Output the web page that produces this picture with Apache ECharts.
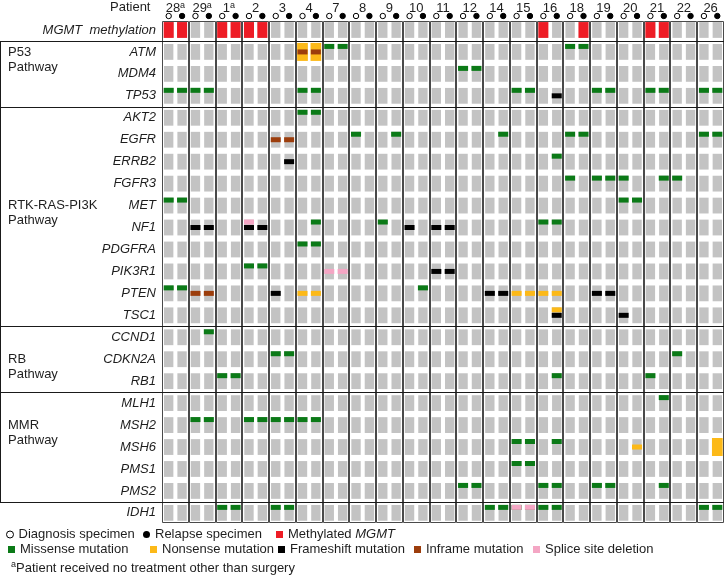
<!DOCTYPE html>
<html>
<head>
<meta charset="utf-8">
<script src="https://cdn.jsdelivr.net/npm/echarts@6/dist/echarts.min.js"></script>
<style>
html, body { margin: 0; padding: 0; background: #fff; }
#chart { width: 724px; height: 575px; }
</style>
</head>
<body>
<div id="chart"></div>
<script>
// patients, two specimens each (D = diagnosis, R = relapse)
const patients = ['28', '29', '1', '2', '3', '4', '7', '8', '9', '10', '11', '12', '14', '15', '16', '18', '19', '20', '21', '22', '26'];
const surgeryOnly = ['28', '29', '1'];
const rows = ['MGMT  methylation', 'ATM', 'MDM4', 'TP53', 'AKT2', 'EGFR', 'ERRB2', 'FGFR3', 'MET', 'NF1', 'PDGFRA',
  'PIK3R1', 'PTEN', 'TSC1', 'CCND1', 'CDKN2A', 'RB1', 'MLH1', 'MSH2', 'MSH6', 'PMS1', 'PMS2', 'IDH1'];
// [label, first gene, last gene]
const pathways = [
  ['P53\nPathway', 'ATM', 'TP53'],
  ['RTK-RAS-PI3K\nPathway', 'AKT2', 'TSC1'],
  ['RB\nPathway', 'CCND1', 'RB1'],
  ['MMR\nPathway', 'MLH1', 'PMS2']
];

// [gene, patient, specimens]
const methylated = [['MGMT  methylation', '28', 'DR'], ['MGMT  methylation', '1', 'DR'], ['MGMT  methylation', '2', 'DR'],
  ['MGMT  methylation', '16', 'D'], ['MGMT  methylation', '18', 'R'], ['MGMT  methylation', '21', 'DR']];
const missense = [
  ['ATM', '7', 'DR'], ['ATM', '18', 'DR'], ['MDM4', '12', 'DR'],
  ['TP53', '28', 'DR'], ['TP53', '29', 'DR'], ['TP53', '4', 'DR'], ['TP53', '15', 'DR'], ['TP53', '19', 'DR'], ['TP53', '21', 'DR'], ['TP53', '26', 'DR'],
  ['AKT2', '4', 'DR'],
  ['EGFR', '8', 'D'], ['EGFR', '9', 'R'], ['EGFR', '14', 'R'], ['EGFR', '18', 'DR'], ['EGFR', '26', 'DR'],
  ['ERRB2', '16', 'R'],
  ['FGFR3', '18', 'D'], ['FGFR3', '19', 'DR'], ['FGFR3', '20', 'D'], ['FGFR3', '21', 'R'], ['FGFR3', '22', 'D'],
  ['MET', '28', 'DR'], ['MET', '20', 'DR'],
  ['NF1', '4', 'R'], ['NF1', '9', 'D'], ['NF1', '16', 'DR'],
  ['PDGFRA', '4', 'DR'], ['PIK3R1', '2', 'DR'],
  ['PTEN', '28', 'DR'], ['PTEN', '10', 'R'],
  ['CCND1', '29', 'R'], ['CDKN2A', '3', 'DR'], ['CDKN2A', '22', 'D'],
  ['RB1', '1', 'DR'], ['RB1', '16', 'R'], ['RB1', '21', 'D'],
  ['MLH1', '21', 'R'],
  ['MSH2', '29', 'DR'], ['MSH2', '2', 'DR'], ['MSH2', '3', 'DR'], ['MSH2', '4', 'DR'],
  ['MSH6', '15', 'DR'], ['MSH6', '16', 'R'], ['PMS1', '15', 'DR'],
  ['PMS2', '12', 'DR'], ['PMS2', '16', 'DR'], ['PMS2', '19', 'DR'], ['PMS2', '21', 'R'],
  ['IDH1', '1', 'DR'], ['IDH1', '3', 'DR'], ['IDH1', '14', 'DR'], ['IDH1', '15', 'DR'], ['IDH1', '16', 'DR'], ['IDH1', '26', 'DR']
];
const nonsense = [['PTEN', '4', 'DR'], ['PTEN', '15', 'DR'], ['PTEN', '16', 'DR'], ['TSC1', '16', 'R'], ['MSH6', '20', 'R']];
const nonsenseWholeCell = [['ATM', '4', 'DR'], ['MSH6', '26', 'R']];
const frameshift = [
  ['TP53', '16', 'R'], ['ERRB2', '3', 'R'], ['NF1', '29', 'DR'], ['NF1', '2', 'DR'], ['NF1', '10', 'D'], ['NF1', '11', 'DR'],
  ['PIK3R1', '11', 'DR'], ['PTEN', '3', 'D'], ['PTEN', '14', 'DR'], ['PTEN', '19', 'DR'], ['TSC1', '16', 'R'], ['TSC1', '20', 'D']
];
const inframe = [['ATM', '4', 'DR'], ['EGFR', '3', 'DR'], ['PTEN', '29', 'DR']];
const splice = [['NF1', '2', 'D'], ['PIK3R1', '7', 'DR'], ['IDH1', '15', 'DR']];

const COLORS = {
  cell: '#c3c3c3', methyl: '#ee1c25', missense: '#0b7a17', nonsense: '#fcb918',
  frameshift: '#000000', inframe: '#9c3d0c', splice: '#f4a6c4', text: '#1e1e1e'
};
const FONT = 'Liberation Sans';

// expand [gene, patient, 'DR'] into [column, row] points
function expand(list) {
  const out = [];
  list.forEach(function (d) {
    d[2].split('').forEach(function (s) {
      out.push([patients.indexOf(d[1]) * 2 + (s === 'R' ? 1 : 0), rows.indexOf(d[0])]);
    });
  });
  return out;
}
// marks that share a cell with a "main" mark are lifted above it
const mainCells = new Set(expand(missense.concat(frameshift, inframe)).map(function (p) { return p.join(','); }));
function withLift(points) {
  return points.map(function (p) { return [p[0], p[1], mainCells.has(p.join(',')) ? 1 : 0]; });
}
function flat(points) {
  return points.map(function (p) { return [p[0], p[1], 0]; });
}

const allCells = [];
for (let r = 0; r < rows.length; r++) {
  for (let c = 0; c < patients.length * 2; c++) allCells.push([c, r]);
}

function rectRenderer(color, wf, hf) {
  return function (params, api) {
    const c = api.coord([api.value(0) + 0.5, api.value(1)]);
    const cw = api.size([1, 0])[0], rh = api.size([0, 1])[1];
    const w = cw * wf, h = rh * hf;
    return { type: 'rect', shape: { x: c[0] - w / 2, y: c[1] - h / 2, width: w, height: h }, style: { fill: color } };
  };
}
function barRenderer(color) {
  return function (params, api) {
    const c = api.coord([api.value(0) + 0.5, api.value(1)]);
    const cw = api.size([1, 0])[0];
    const w = cw * 0.75, h = 5;
    const dy = api.value(2) ? -5.5 : 0;
    return { type: 'rect', shape: { x: c[0] - w / 2, y: c[1] - h / 2 + dy, width: w, height: h }, style: { fill: color } };
  };
}
function specimenRenderer(filled) {
  return function (params, api) {
    const c = api.coord([api.value(0) + 0.5, 0]);
    const rh = api.size([0, 1])[1];
    return {
      type: 'circle', shape: { cx: c[0], cy: c[1] - rh / 2 - 3, r: 2.7 },
      style: { fill: filled ? '#000' : '#fff', stroke: '#000', lineWidth: 1 }
    };
  };
}

const pathwayLabelRow = { 'P53\nPathway': 1, 'RTK-RAS-PI3K\nPathway': 8.2, 'RB\nPathway': 15.05, 'MMR\nPathway': 18.45 };

const chart = echarts.init(document.getElementById('chart'));
const rowH = 21.95, colW = 13.4;
const option = {
  animation: false,
  textStyle: { fontFamily: FONT },
  title: [
    { text: 'Patient', left: 110, top: 1, padding: 0, textStyle: { fontSize: 13, fontWeight: 'normal', color: COLORS.text, fontFamily: FONT } },
    {
      text: '{sup|a}{t|Patient received no treatment other than surgery}', left: 11, top: 560, padding: 0,
      textStyle: {
        fontWeight: 'normal', fontFamily: FONT,
        rich: {
          sup: { fontSize: 9, color: COLORS.text, verticalAlign: 'top', lineHeight: 16, fontFamily: FONT },
          t: { fontSize: 13, color: COLORS.text, lineHeight: 16, fontFamily: FONT }
        }
      }
    }
  ],
  legend: [
    ['Diagnosis specimen', 6, 528, 'circle', { color: '#fff', borderColor: '#000', borderWidth: 1 }],
    ['Relapse specimen', 143, 528, 'circle', { color: '#000' }],
    ['Methylated MGMT', 276, 528, 'rect', { color: COLORS.methyl }],
    ['Missense mutation', 8, 543, 'rect', { color: COLORS.missense }],
    ['Nonsense mutation', 150, 543, 'rect', { color: COLORS.nonsense }],
    ['Frameshift mutation', 278, 543, 'rect', { color: COLORS.frameshift }],
    ['Inframe mutation', 414, 543, 'rect', { color: COLORS.inframe }],
    ['Splice site deletion', 533, 543, 'rect', { color: COLORS.splice }]
  ].map(function (l) {
    return {
      data: [{ name: l[0], icon: l[3], itemStyle: l[4] }],
      left: l[1], top: l[2], padding: 0, itemWidth: 7, itemHeight: 7, selectedMode: false,
      formatter: function (name) { return name === 'Methylated MGMT' ? 'Methylated {i|MGMT}' : name; },
      textStyle: {
        fontSize: 13, color: COLORS.text, fontFamily: FONT,
        rich: { i: { fontSize: 13, fontStyle: 'italic', color: COLORS.text, fontFamily: FONT } }
      }
    };
  }),
  grid: { left: 162, top: 19, width: patients.length * 2 * colW, height: rows.length * rowH },
  xAxis: [
    { type: 'value', min: 0, max: patients.length * 2, show: false },
    {
      type: 'category', position: 'top', data: patients,
      axisLine: { show: false }, axisTick: { show: false }, splitLine: { show: false },
      axisLabel: {
        interval: 0, margin: 3,
        formatter: function (v) { return surgeryOnly.indexOf(v) >= 0 ? '{n|' + v + '}{sup|a}' : '{n|' + v + '}'; },
        rich: {
          n: { fontSize: 13, color: COLORS.text, lineHeight: 15, fontFamily: FONT },
          sup: { fontSize: 9, color: COLORS.text, lineHeight: 15, verticalAlign: 'top', fontFamily: FONT }
        }
      }
    }
  ],
  yAxis: {
    type: 'category', inverse: true, data: rows,
    axisLine: { show: false }, axisTick: { show: false }, splitLine: { show: false },
    axisLabel: { fontSize: 13, fontStyle: 'italic', color: COLORS.text, margin: 6, fontFamily: FONT }
  },
  series: [
    { type: 'custom', name: 'cells', data: allCells, renderItem: rectRenderer(COLORS.cell, 0.7, 0.72), silent: true },
    {
      type: 'custom', name: 'frames', silent: true, z: 5,
      data: patients.map(function (p, i) { return [i * 2, 0]; }),
      renderItem: function (params, api) {
        const x0 = api.coord([api.value(0), 0])[0], x1 = api.coord([api.value(0) + 2, 0])[0];
        const rh = api.size([0, 1])[1];
        const top = api.coord([0, 0])[1] - rh / 2 + 2;
        const bottom = api.coord([0, rows.length - 1])[1] + rh / 2 - 2;
        const l = Math.round(x0) + 0.5, r = Math.round(x1) - 0.5;
        return {
          type: 'rect', shape: { x: l, y: Math.round(top) + 0.5, width: r - l, height: Math.round(bottom - top) },
          style: { fill: null, stroke: '#4a4a4a', lineWidth: 1 }
        };
      }
    },
    {
      type: 'custom', name: 'pathways', silent: true, z: 6,
      data: pathways.map(function (p, i) { return [i, rows.indexOf(p[1]), rows.indexOf(p[2])]; }),
      renderItem: function (params, api) {
        const p = pathways[api.value(0)];
        const rh = api.size([0, 1])[1];
        const yTop = Math.round(api.coord([0, api.value(1)])[1] - rh / 2) + 0.5;
        const yBot = Math.round(api.coord([0, api.value(2)])[1] + rh / 2) + 0.5;
        const W = api.getWidth();
        const yLab = api.coord([0, pathwayLabelRow[p[0]]])[1];
        const line = function (x1, y1, x2, y2) {
          return { type: 'line', shape: { x1: x1, y1: y1, x2: x2, y2: y2 }, style: { stroke: '#1a1a1a', lineWidth: 1 } };
        };
        return {
          type: 'group', children: [
            line(0, yTop, W, yTop), line(0, yBot, W, yBot), line(0.5, yTop, 0.5, yBot),
            {
              type: 'text', x: 8, y: yLab - 7.5,
              style: { text: p[0], fill: COLORS.text, fontSize: 13, fontFamily: FONT, lineHeight: 15, verticalAlign: 'top' }
            }
          ]
        };
      }
    },
    { type: 'custom', name: 'Diagnosis specimen', itemStyle: { color: '#fff' }, z: 4, data: patients.map(function (p, i) { return [i * 2, 0]; }), renderItem: specimenRenderer(false) },
    { type: 'custom', name: 'Relapse specimen', itemStyle: { color: '#000' }, z: 4, data: patients.map(function (p, i) { return [i * 2 + 1, 0]; }), renderItem: specimenRenderer(true) },
    { type: 'custom', name: 'Methylated MGMT', itemStyle: { color: COLORS.methyl }, z: 3, data: expand(methylated), renderItem: rectRenderer(COLORS.methyl, 0.75, 0.72) },
    { type: 'custom', name: 'Nonsense mutation', itemStyle: { color: COLORS.nonsense }, z: 3, data: expand(nonsenseWholeCell), renderItem: rectRenderer(COLORS.nonsense, 0.8, 0.82) },
    { type: 'custom', name: 'Missense mutation', itemStyle: { color: COLORS.missense }, z: 4, data: withLift(expand(missense)), renderItem: barRenderer(COLORS.missense) },
    { type: 'custom', name: 'Nonsense mutation', itemStyle: { color: COLORS.nonsense }, z: 4, data: withLift(expand(nonsense)), renderItem: barRenderer(COLORS.nonsense) },
    { type: 'custom', name: 'Frameshift mutation', itemStyle: { color: COLORS.frameshift }, z: 4, data: flat(expand(frameshift)), renderItem: barRenderer(COLORS.frameshift) },
    { type: 'custom', name: 'Inframe mutation', itemStyle: { color: COLORS.inframe }, z: 4, data: flat(expand(inframe)), renderItem: barRenderer(COLORS.inframe) },
    { type: 'custom', name: 'Splice site deletion', itemStyle: { color: COLORS.splice }, z: 4, data: withLift(expand(splice)), renderItem: barRenderer(COLORS.splice) }
  ]
};
chart.setOption(option);
</script>
</body>
</html>
